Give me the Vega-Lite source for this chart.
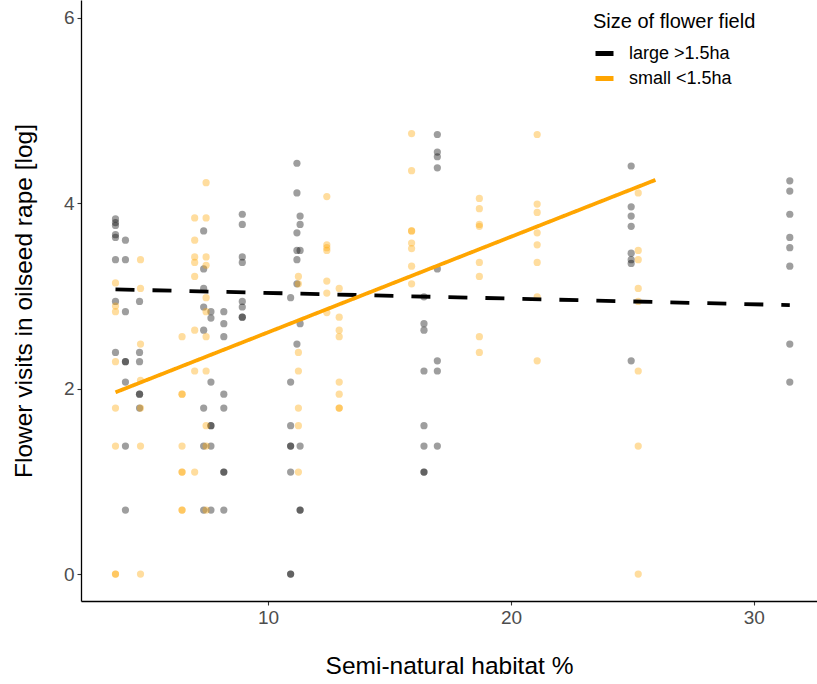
{
 "$schema": "https://vega.github.io/schema/vega-lite/v6.json",
 "width": 736, "height": 601,
 "autosize": {"type": "none"},
 "padding": {"left": 81, "top": 0, "right": 0, "bottom": 83},
 "config": {
  "view": {"stroke": null},
  "font": "Liberation Sans",
  "axis": {"grid": false, "domainColor": "#000000", "domainWidth": 1.3, "tickColor": "#333333", "tickWidth": 1.1, "tickSize": 4, "labelColor": "#4d4d4d", "labelFontSize": 19, "titleFontSize": 24.5, "titleFontWeight": "normal", "titleColor": "#000000"}
 },
 "datasets": {
  "pts": [
   {"habitat":3.72,"visits":3.83,"field":"large >1.5ha"},{"habitat":3.72,"visits":3.79,"field":"large >1.5ha"},{"habitat":3.72,"visits":3.76,"field":"large >1.5ha"},{"habitat":3.72,"visits":3.66,"field":"large >1.5ha"},{"habitat":3.72,"visits":3.63,"field":"large >1.5ha"},{"habitat":3.72,"visits":3.39,"field":"large >1.5ha"},{"habitat":3.72,"visits":2.94,"field":"large >1.5ha"},{"habitat":3.72,"visits":2.39,"field":"large >1.5ha"},
   {"habitat":4.13,"visits":3.60,"field":"large >1.5ha"},{"habitat":4.13,"visits":3.39,"field":"large >1.5ha"},{"habitat":4.13,"visits":2.83,"field":"large >1.5ha"},{"habitat":4.13,"visits":2.29,"field":"large >1.5ha"},{"habitat":4.13,"visits":2.29,"field":"large >1.5ha"},{"habitat":4.13,"visits":2.07,"field":"large >1.5ha"},{"habitat":4.13,"visits":1.38,"field":"large >1.5ha"},{"habitat":4.13,"visits":0.69,"field":"large >1.5ha"},
   {"habitat":4.71,"visits":2.94,"field":"large >1.5ha"},{"habitat":4.71,"visits":2.39,"field":"large >1.5ha"},{"habitat":4.71,"visits":2.29,"field":"large >1.5ha"},{"habitat":4.71,"visits":1.94,"field":"large >1.5ha"},{"habitat":4.71,"visits":1.94,"field":"large >1.5ha"},{"habitat":4.71,"visits":1.79,"field":"large >1.5ha"},
   {"habitat":7.35,"visits":3.70,"field":"large >1.5ha"},{"habitat":7.35,"visits":3.29,"field":"large >1.5ha"},{"habitat":7.35,"visits":3.08,"field":"large >1.5ha"},{"habitat":7.35,"visits":2.88,"field":"large >1.5ha"},{"habitat":7.35,"visits":2.63,"field":"large >1.5ha"},{"habitat":7.35,"visits":1.79,"field":"large >1.5ha"},{"habitat":7.35,"visits":1.38,"field":"large >1.5ha"},{"habitat":7.35,"visits":0.69,"field":"large >1.5ha"},
   {"habitat":7.65,"visits":2.83,"field":"large >1.5ha"},{"habitat":7.65,"visits":2.76,"field":"large >1.5ha"},{"habitat":7.65,"visits":2.07,"field":"large >1.5ha"},{"habitat":7.65,"visits":1.60,"field":"large >1.5ha"},{"habitat":7.65,"visits":1.60,"field":"large >1.5ha"},{"habitat":7.65,"visits":1.38,"field":"large >1.5ha"},{"habitat":7.65,"visits":0.69,"field":"large >1.5ha"},
   {"habitat":8.18,"visits":2.83,"field":"large >1.5ha"},{"habitat":8.18,"visits":2.70,"field":"large >1.5ha"},{"habitat":8.18,"visits":2.56,"field":"large >1.5ha"},{"habitat":8.18,"visits":1.94,"field":"large >1.5ha"},{"habitat":8.18,"visits":1.79,"field":"large >1.5ha"},{"habitat":8.18,"visits":1.10,"field":"large >1.5ha"},{"habitat":8.18,"visits":1.10,"field":"large >1.5ha"},{"habitat":8.18,"visits":0.69,"field":"large >1.5ha"},
   {"habitat":8.94,"visits":3.88,"field":"large >1.5ha"},{"habitat":8.94,"visits":3.77,"field":"large >1.5ha"},{"habitat":8.94,"visits":3.42,"field":"large >1.5ha"},{"habitat":8.94,"visits":3.36,"field":"large >1.5ha"},{"habitat":8.94,"visits":2.94,"field":"large >1.5ha"},{"habitat":8.94,"visits":2.88,"field":"large >1.5ha"},{"habitat":8.94,"visits":2.77,"field":"large >1.5ha"},{"habitat":8.94,"visits":2.77,"field":"large >1.5ha"},
   {"habitat":10.93,"visits":2.98,"field":"large >1.5ha"},{"habitat":10.93,"visits":2.07,"field":"large >1.5ha"},{"habitat":10.93,"visits":1.60,"field":"large >1.5ha"},{"habitat":10.93,"visits":1.38,"field":"large >1.5ha"},{"habitat":10.93,"visits":1.38,"field":"large >1.5ha"},{"habitat":10.93,"visits":1.10,"field":"large >1.5ha"},{"habitat":10.93,"visits":0,"field":"large >1.5ha"},{"habitat":10.93,"visits":0,"field":"large >1.5ha"},
   {"habitat":11.19,"visits":4.43,"field":"large >1.5ha"},{"habitat":11.19,"visits":4.11,"field":"large >1.5ha"},{"habitat":11.19,"visits":3.68,"field":"large >1.5ha"},{"habitat":11.19,"visits":3.49,"field":"large >1.5ha"},{"habitat":11.19,"visits":3.39,"field":"large >1.5ha"},{"habitat":11.19,"visits":3.13,"field":"large >1.5ha"},{"habitat":11.19,"visits":2.48,"field":"large >1.5ha"},
   {"habitat":11.32,"visits":3.86,"field":"large >1.5ha"},{"habitat":11.32,"visits":3.77,"field":"large >1.5ha"},{"habitat":11.32,"visits":3.49,"field":"large >1.5ha"},{"habitat":11.32,"visits":2.70,"field":"large >1.5ha"},{"habitat":11.32,"visits":1.38,"field":"large >1.5ha"},{"habitat":11.32,"visits":0.69,"field":"large >1.5ha"},{"habitat":11.32,"visits":0.69,"field":"large >1.5ha"},
   {"habitat":16.42,"visits":2.99,"field":"large >1.5ha"},{"habitat":16.42,"visits":2.70,"field":"large >1.5ha"},{"habitat":16.42,"visits":2.63,"field":"large >1.5ha"},{"habitat":16.42,"visits":2.19,"field":"large >1.5ha"},{"habitat":16.42,"visits":1.60,"field":"large >1.5ha"},{"habitat":16.42,"visits":1.38,"field":"large >1.5ha"},{"habitat":16.42,"visits":1.10,"field":"large >1.5ha"},{"habitat":16.42,"visits":1.10,"field":"large >1.5ha"},
   {"habitat":16.97,"visits":4.74,"field":"large >1.5ha"},{"habitat":16.97,"visits":4.55,"field":"large >1.5ha"},{"habitat":16.97,"visits":4.50,"field":"large >1.5ha"},{"habitat":16.97,"visits":4.38,"field":"large >1.5ha"},{"habitat":16.97,"visits":3.29,"field":"large >1.5ha"},{"habitat":16.97,"visits":2.30,"field":"large >1.5ha"},{"habitat":16.97,"visits":2.19,"field":"large >1.5ha"},{"habitat":16.97,"visits":1.38,"field":"large >1.5ha"},
   {"habitat":24.95,"visits":4.40,"field":"large >1.5ha"},{"habitat":24.95,"visits":3.96,"field":"large >1.5ha"},{"habitat":24.95,"visits":3.86,"field":"large >1.5ha"},{"habitat":24.95,"visits":3.75,"field":"large >1.5ha"},{"habitat":24.95,"visits":3.46,"field":"large >1.5ha"},{"habitat":24.95,"visits":3.39,"field":"large >1.5ha"},{"habitat":24.95,"visits":3.35,"field":"large >1.5ha"},{"habitat":24.95,"visits":2.30,"field":"large >1.5ha"},
   {"habitat":31.48,"visits":4.24,"field":"large >1.5ha"},{"habitat":31.48,"visits":4.13,"field":"large >1.5ha"},{"habitat":31.48,"visits":3.88,"field":"large >1.5ha"},{"habitat":31.48,"visits":3.63,"field":"large >1.5ha"},{"habitat":31.48,"visits":3.52,"field":"large >1.5ha"},{"habitat":31.48,"visits":3.32,"field":"large >1.5ha"},{"habitat":31.48,"visits":2.48,"field":"large >1.5ha"},{"habitat":31.48,"visits":2.07,"field":"large >1.5ha"},
   {"habitat":3.72,"visits":3.14,"field":"small <1.5ha"},{"habitat":3.72,"visits":2.89,"field":"small <1.5ha"},{"habitat":3.72,"visits":2.83,"field":"small <1.5ha"},{"habitat":3.72,"visits":2.29,"field":"small <1.5ha"},{"habitat":3.72,"visits":1.79,"field":"small <1.5ha"},{"habitat":3.72,"visits":1.38,"field":"small <1.5ha"},{"habitat":3.72,"visits":0,"field":"small <1.5ha"},{"habitat":3.72,"visits":0,"field":"small <1.5ha"},
   {"habitat":4.75,"visits":3.39,"field":"small <1.5ha"},{"habitat":4.75,"visits":3.08,"field":"small <1.5ha"},{"habitat":4.75,"visits":2.48,"field":"small <1.5ha"},{"habitat":4.75,"visits":2.09,"field":"small <1.5ha"},{"habitat":4.75,"visits":1.79,"field":"small <1.5ha"},{"habitat":4.75,"visits":1.38,"field":"small <1.5ha"},{"habitat":4.75,"visits":0,"field":"small <1.5ha"},
   {"habitat":6.46,"visits":2.56,"field":"small <1.5ha"},{"habitat":6.46,"visits":1.94,"field":"small <1.5ha"},{"habitat":6.46,"visits":1.94,"field":"small <1.5ha"},{"habitat":6.46,"visits":1.38,"field":"small <1.5ha"},{"habitat":6.46,"visits":1.10,"field":"small <1.5ha"},{"habitat":6.46,"visits":1.10,"field":"small <1.5ha"},{"habitat":6.46,"visits":0.69,"field":"small <1.5ha"},{"habitat":6.46,"visits":0.69,"field":"small <1.5ha"},
   {"habitat":6.98,"visits":3.84,"field":"small <1.5ha"},{"habitat":6.98,"visits":3.60,"field":"small <1.5ha"},{"habitat":6.98,"visits":3.42,"field":"small <1.5ha"},{"habitat":6.98,"visits":3.36,"field":"small <1.5ha"},{"habitat":6.98,"visits":3.21,"field":"small <1.5ha"},{"habitat":6.98,"visits":2.63,"field":"small <1.5ha"},{"habitat":6.98,"visits":2.19,"field":"small <1.5ha"},{"habitat":6.98,"visits":1.10,"field":"small <1.5ha"},
   {"habitat":7.45,"visits":4.22,"field":"small <1.5ha"},{"habitat":7.45,"visits":3.84,"field":"small <1.5ha"},{"habitat":7.45,"visits":3.42,"field":"small <1.5ha"},{"habitat":7.45,"visits":3.33,"field":"small <1.5ha"},{"habitat":7.45,"visits":2.98,"field":"small <1.5ha"},{"habitat":7.45,"visits":2.83,"field":"small <1.5ha"},{"habitat":7.45,"visits":2.56,"field":"small <1.5ha"},{"habitat":7.45,"visits":2.19,"field":"small <1.5ha"},{"habitat":7.45,"visits":1.60,"field":"small <1.5ha"},{"habitat":7.45,"visits":1.38,"field":"small <1.5ha"},{"habitat":7.45,"visits":0.69,"field":"small <1.5ha"},
   {"habitat":11.25,"visits":3.21,"field":"small <1.5ha"},{"habitat":11.25,"visits":3.13,"field":"small <1.5ha"},{"habitat":11.25,"visits":2.39,"field":"small <1.5ha"},{"habitat":11.25,"visits":2.19,"field":"small <1.5ha"},{"habitat":11.25,"visits":1.79,"field":"small <1.5ha"},{"habitat":11.25,"visits":1.60,"field":"small <1.5ha"},{"habitat":11.25,"visits":1.10,"field":"small <1.5ha"},
   {"habitat":12.42,"visits":4.07,"field":"small <1.5ha"},{"habitat":12.42,"visits":3.55,"field":"small <1.5ha"},{"habitat":12.42,"visits":3.52,"field":"small <1.5ha"},{"habitat":12.42,"visits":3.49,"field":"small <1.5ha"},{"habitat":12.42,"visits":3.16,"field":"small <1.5ha"},{"habitat":12.42,"visits":3.03,"field":"small <1.5ha"},{"habitat":12.42,"visits":2.82,"field":"small <1.5ha"},
   {"habitat":12.93,"visits":3.08,"field":"small <1.5ha"},{"habitat":12.93,"visits":2.77,"field":"small <1.5ha"},{"habitat":12.93,"visits":2.63,"field":"small <1.5ha"},{"habitat":12.93,"visits":2.56,"field":"small <1.5ha"},{"habitat":12.93,"visits":2.07,"field":"small <1.5ha"},{"habitat":12.93,"visits":1.94,"field":"small <1.5ha"},{"habitat":12.93,"visits":1.79,"field":"small <1.5ha"},{"habitat":12.93,"visits":1.79,"field":"small <1.5ha"},
   {"habitat":15.91,"visits":4.75,"field":"small <1.5ha"},{"habitat":15.91,"visits":4.35,"field":"small <1.5ha"},{"habitat":15.91,"visits":3.70,"field":"small <1.5ha"},{"habitat":15.91,"visits":3.70,"field":"small <1.5ha"},{"habitat":15.91,"visits":3.57,"field":"small <1.5ha"},{"habitat":15.91,"visits":3.51,"field":"small <1.5ha"},{"habitat":15.91,"visits":3.32,"field":"small <1.5ha"},{"habitat":15.91,"visits":3.13,"field":"small <1.5ha"},
   {"habitat":18.70,"visits":4.05,"field":"small <1.5ha"},{"habitat":18.70,"visits":3.94,"field":"small <1.5ha"},{"habitat":18.70,"visits":3.77,"field":"small <1.5ha"},{"habitat":18.70,"visits":3.75,"field":"small <1.5ha"},{"habitat":18.70,"visits":3.36,"field":"small <1.5ha"},{"habitat":18.70,"visits":3.21,"field":"small <1.5ha"},{"habitat":18.70,"visits":2.56,"field":"small <1.5ha"},{"habitat":18.70,"visits":2.39,"field":"small <1.5ha"},
   {"habitat":21.08,"visits":4.74,"field":"small <1.5ha"},{"habitat":21.08,"visits":3.99,"field":"small <1.5ha"},{"habitat":21.08,"visits":3.90,"field":"small <1.5ha"},{"habitat":21.08,"visits":3.68,"field":"small <1.5ha"},{"habitat":21.08,"visits":3.55,"field":"small <1.5ha"},{"habitat":21.08,"visits":3.36,"field":"small <1.5ha"},{"habitat":21.08,"visits":2.99,"field":"small <1.5ha"},{"habitat":21.08,"visits":2.30,"field":"small <1.5ha"},
   {"habitat":25.24,"visits":4.11,"field":"small <1.5ha"},{"habitat":25.24,"visits":3.49,"field":"small <1.5ha"},{"habitat":25.24,"visits":3.39,"field":"small <1.5ha"},{"habitat":25.24,"visits":3.08,"field":"small <1.5ha"},{"habitat":25.24,"visits":2.94,"field":"small <1.5ha"},{"habitat":25.24,"visits":2.19,"field":"small <1.5ha"},{"habitat":25.24,"visits":1.38,"field":"small <1.5ha"},{"habitat":25.24,"visits":0,"field":"small <1.5ha"}
  ],
  "fits": [
   {"habitat":3.72,"visits":3.07,"field":"large >1.5ha"},{"habitat":31.48,"visits":2.90,"field":"large >1.5ha"},
   {"habitat":3.72,"visits":1.96,"field":"small <1.5ha"},{"habitat":25.95,"visits":4.25,"field":"small <1.5ha"}
  ]
 },
 "encoding": {
  "x": {"field": "habitat", "type": "quantitative", "title": "Semi-natural habitat %", "scale": {"domain": [2.3, 32.6], "nice": false, "zero": false}, "axis": {"values": [10, 20, 30], "labelPadding": 3, "titlePadding": 27}},
  "y": {"field": "visits", "type": "quantitative", "title": "Flower visits in oilseed rape [log]", "scale": {"domain": [-0.29, 6.19], "nice": false, "zero": false}, "axis": {"values": [0, 2, 4, 6], "labelPadding": 3, "titlePadding": 27}},
  "color": {"field": "field", "type": "nominal", "scale": {"domain": ["large >1.5ha", "small <1.5ha"], "range": ["#000000", "#FFA500"]},
   "legend": {"title": "Size of flower field", "orient": "none", "legendX": 512, "legendY": 12, "titleFontSize": 20, "titleFontWeight": "normal", "titleColor": "#000000", "titlePadding": 10, "labelFontSize": 18, "labelColor": "#000000", "labelOffset": 13, "rowPadding": 3, "symbolType": "stroke", "symbolStrokeWidth": 5, "symbolSize": 324, "symbolOpacity": 1}}
 },
 "layer": [
  {"data": {"name": "pts"}, "mark": {"type": "circle", "size": 52, "opacity": 0.38}},
  {"data": {"name": "fits"}, "mark": {"type": "line", "strokeWidth": 3.8},
   "encoding": {"strokeDash": {"field": "field", "type": "nominal", "scale": {"domain": ["large >1.5ha", "small <1.5ha"], "range": [[19, 18], [1, 0]]}, "legend": null}}}
 ]
}
